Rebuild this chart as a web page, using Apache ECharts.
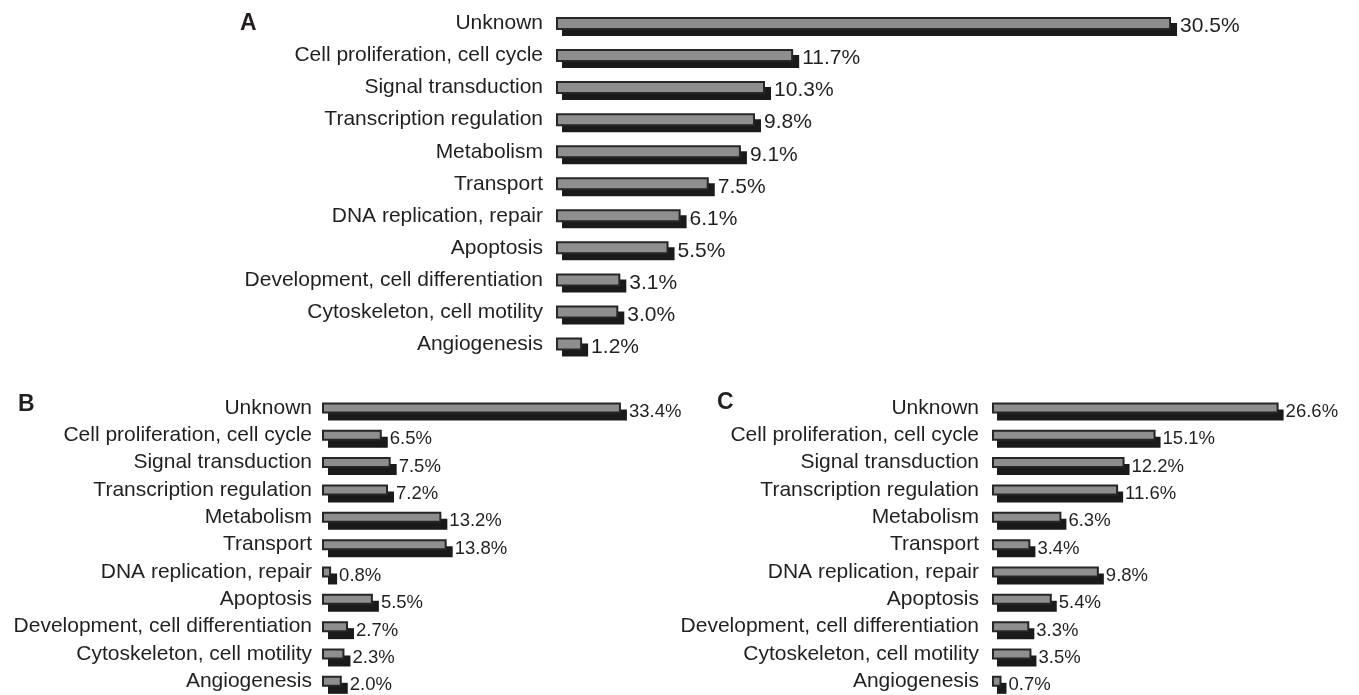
<!DOCTYPE html>
<html>
<head>
<meta charset="utf-8">
<script src="https://cdn.jsdelivr.net/npm/echarts@6/dist/echarts.min.js"></script>
<style>
html,body{margin:0;padding:0;background:#fff;}
#chart{width:1359px;height:695px;}
</style>
</head>
<body>
<div id="chart"></div>
<script>
const categories = [
  "Unknown",
  "Cell proliferation, cell cycle",
  "Signal transduction",
  "Transcription regulation",
  "Metabolism",
  "Transport",
  "DNA replication, repair",
  "Apoptosis",
  "Development, cell differentiation",
  "Cytoskeleton, cell motility",
  "Angiogenesis"
];
const valuesA = [30.5, 11.7, 10.3, 9.8, 9.1, 7.5, 6.1, 5.5, 3.1, 3.0, 1.2];
const valuesB = [33.4, 6.5, 7.5, 7.2, 13.2, 13.8, 0.8, 5.5, 2.7, 2.3, 2.0];
const valuesC = [26.6, 15.1, 12.2, 11.6, 6.3, 3.4, 9.8, 5.4, 3.3, 3.5, 0.7];
const panelLetters = ["A", "B", "C"];

const FONT = "Liberation Sans, Arial, Helvetica, sans-serif";
const TEXT = "#231f20";
const GRAY = "#8e8e8e";
const EDGE = "#262626";
const SHADOW = "#1a1a1a";

const panels = [
  {data: valuesA, grid: {left: 557, top: 7.5, width: 703.5, height: 352.5}, max: 35, bw: 11, sx: 6, sy: 6, labelSize: 21, margin: 14, dist: 9, oy: 3},
  {data: valuesB, grid: {left: 323, top: 394.25, width: 355.6, height: 302.5}, max: 40, bw: 9, sx: 6, sy: 7, labelSize: 18.5, margin: 11, dist: 8, oy: 4},
  {data: valuesC, grid: {left: 993, top: 394.25, width: 321, height: 302.5}, max: 30, bw: 9, sx: 5, sy: 7, labelSize: 18.5, margin: 14, dist: 8, oy: 4}
];

function makeRenderer(p) {
  return function (params, api) {
    const v = api.value(0);
    const c = api.value(1);
    const start = api.coord([0, c]);
    const end = api.coord([v, c]);
    const w = end[0] - start[0];
    const top = end[1] - p.bw / 2;
    return {
      type: "group",
      children: [
        {type: "rect", shape: {x: start[0] - 1 + p.sx, y: top - 1 + p.sy, width: w + 2, height: p.bw + 2},
         style: {fill: SHADOW}},
        {type: "rect", shape: {x: start[0], y: top, width: w, height: p.bw},
         style: {fill: GRAY, stroke: EDGE, lineWidth: 2}},
        {type: "text", x: end[0] + p.sx + p.dist - 5, y: end[1] + p.oy,
         style: {text: v.toFixed(1) + "%", font: p.labelSize + "px " + FONT, fill: TEXT,
                 verticalAlign: "middle", align: "left"}}
      ]
    };
  };
}

const option = {
  animation: false,
  backgroundColor: "#fff",
  textStyle: {fontFamily: FONT},
  grid: panels.map(p => Object.assign({containLabel: false}, p.grid)),
  xAxis: panels.map((p, i) => ({
    type: "value", gridIndex: i, min: 0, max: p.max, show: false
  })),
  yAxis: panels.map((p, i) => ({
    type: "category", gridIndex: i, data: categories, inverse: true,
    axisLine: {show: false}, axisTick: {show: false}, splitLine: {show: false},
    axisLabel: {fontSize: 21, color: TEXT, fontFamily: FONT, margin: p.margin}
  })),
  series: panels.map((p, i) => ({
    type: "custom", xAxisIndex: i, yAxisIndex: i,
    data: p.data.map((v, k) => [v, k]),
    encode: {x: 0, y: 1},
    renderItem: makeRenderer(p)
  })),
  graphic: [
    {type: "text", left: 240, top: 12, style: {text: panelLetters[0], font: "bold 23px " + FONT, fill: TEXT}},
    {type: "text", left: 18, top: 393, style: {text: panelLetters[1], font: "bold 23px " + FONT, fill: TEXT}},
    {type: "text", left: 717, top: 391, style: {text: panelLetters[2], font: "bold 23px " + FONT, fill: TEXT}}
  ]
};

const chart = echarts.init(document.getElementById("chart"), null, {renderer: "canvas"});
chart.setOption(option);
</script>
</body>
</html>
